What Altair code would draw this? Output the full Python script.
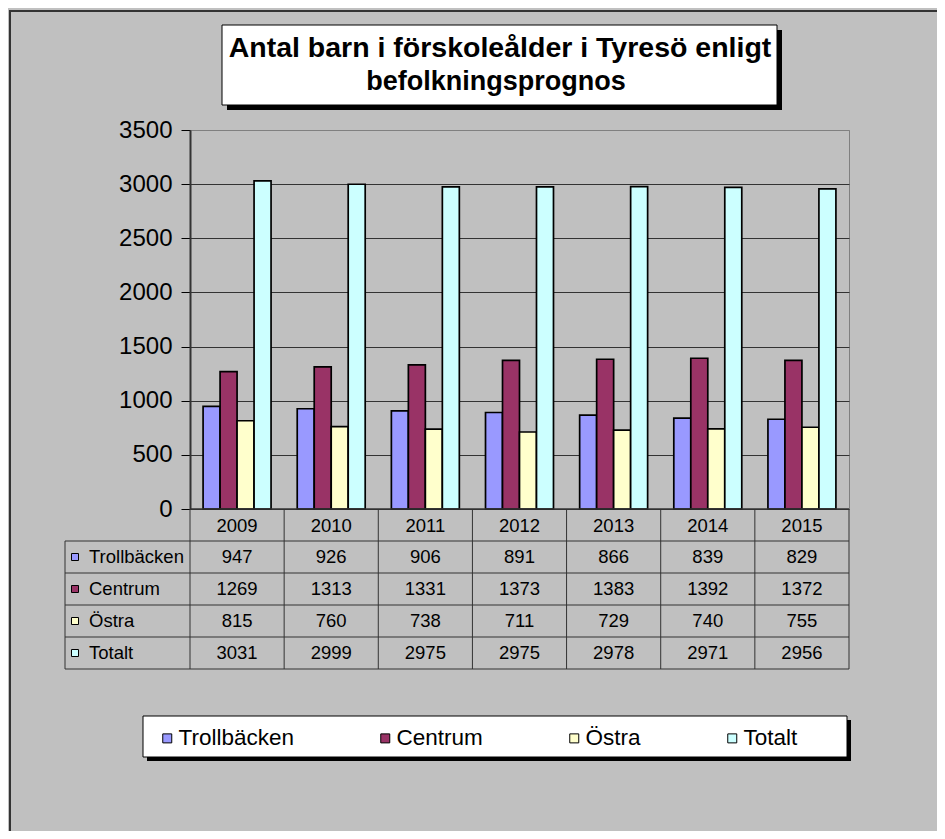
import altair as alt
import pandas as pd

# ---- data ----
years = ["2009", "2010", "2011", "2012", "2013", "2014", "2015"]
series = ["Trollbäcken", "Centrum", "Östra", "Totalt"]
trollbacken = [947, 926, 906, 891, 866, 839, 829]
centrum = [1269, 1313, 1331, 1373, 1383, 1392, 1372]
ostra = [815, 760, 738, 711, 729, 740, 755]
totalt = [3031, 2999, 2975, 2975, 2978, 2971, 2956]
colors = ["#9999FF", "#993366", "#FFFFCC", "#CCFFFF"]
y_ticks = [0, 500, 1000, 1500, 2000, 2500, 3000, 3500]
title_lines = ["Antal barn i förskoleålder i Tyresö enligt", "befolkningsprognos"]

by_series = dict(zip(series, [trollbacken, centrum, ostra, totalt]))
df = pd.DataFrame(
    [{"year": y, "series": s, "value": v} for s in series for y, v in zip(years, by_series[s])]
)
years_df = pd.DataFrame({"year": years})
series_df = pd.DataFrame({"series": series})
one = alt.Data(values=[{"k": 1}])

FONT = "Liberation Sans"
W, H = 659, 379
ROW = 32
TB = H + 5 * ROW  # table bottom
LINE = "#333333"
TFS = 18.5  # table font size

rows = ["header"] + series
row_scale = alt.Scale(type="band", domain=rows, range=[H, TB], paddingInner=0, paddingOuter=0)
x_scale = alt.Scale(type="band", domain=years, paddingInner=0, paddingOuter=0)
x_enc = alt.X("year:N", sort=years, scale=x_scale, axis=None)

legend = alt.Legend(
    title=None, orient="none", legendX=-34, legendY=597, direction="horizontal",
    columnPadding=80, symbolType="square", symbolSize=81, symbolStrokeColor="black",
    symbolStrokeWidth=1, symbolOpacity=1, labelFontSize=22.5, labelFont=FONT,
    labelColor="black", labelOffset=0, padding=0,
)
color_enc = alt.Color("series:N", scale=alt.Scale(domain=series, range=colors), legend=legend)

# outer frame
frame = alt.Chart(one).mark_rect(fill="transparent", stroke=LINE, strokeWidth=2).encode(
    x=alt.value(-180), x2=alt.value(1200), y=alt.value(-119), y2=alt.value(1200)
)

# title box
title_shadow = alt.Chart(one).mark_rect(fill="black").encode(
    x=alt.value(37), x2=alt.value(592), y=alt.value(-100), y2=alt.value(-20)
)
title_box = alt.Chart(one).mark_rect(fill="white", stroke="black", strokeWidth=1).encode(
    x=alt.value(32), x2=alt.value(587), y=alt.value(-105), y2=alt.value(-25)
)
title1 = alt.Chart(one).mark_text(fontSize=28.5, fontWeight="bold", font=FONT, color="black").encode(
    x=alt.value(310), y=alt.value(-82), text=alt.value(title_lines[0])
)
title2 = alt.Chart(one).mark_text(fontSize=27, fontWeight="bold", font=FONT, color="black").encode(
    x=alt.value(306), y=alt.value(-48), text=alt.value(title_lines[1])
)

# bars
bars = alt.Chart(df).mark_bar(stroke="black", strokeWidth=1.7).encode(
    x=x_enc,
    xOffset=alt.XOffset("series:N", sort=series,
                        scale=alt.Scale(domain=series, paddingInner=0, paddingOuter=0.77)),
    y=alt.Y("value:Q", scale=alt.Scale(domain=[0, 3500], nice=False),
            axis=alt.Axis(values=y_ticks, format="d", title=None, labelFontSize=24, labelFont=FONT,
                          labelColor="black", labelPadding=9, tickSize=9, tickColor="black",
                          domainColor=LINE, domainWidth=2, grid=True,
                          gridColor={"condition": {"test": "datum.value === 3500", "value": "#808080"},
                                     "value": LINE})),
    color=color_enc,
)

# table grid
v_lines = alt.Chart(years_df).mark_rule(color=LINE, strokeWidth=1).encode(
    x=alt.X("year:N", sort=years, scale=x_scale, axis=None, bandPosition=0),
    y=alt.value(H), y2=alt.value(TB),
)
v_right = alt.Chart(one).mark_rule(color=LINE, strokeWidth=1).encode(
    x=alt.value(W), y=alt.value(H), y2=alt.value(TB)
)
v_left = alt.Chart(one).mark_rule(color=LINE, strokeWidth=1).encode(
    x=alt.value(-125), y=alt.value(H + ROW), y2=alt.value(TB)
)
h_lines = alt.Chart(series_df).mark_rule(color=LINE, strokeWidth=1).encode(
    y=alt.Y("series:N", scale=row_scale, axis=None, bandPosition=0),
    x=alt.value(-125), x2=alt.value(W),
)
h_bottom = alt.Chart(one).mark_rule(color=LINE, strokeWidth=1).encode(
    y=alt.value(TB), x=alt.value(-125), x2=alt.value(W)
)
x_axis_line = alt.Chart(one).mark_rule(color=LINE, strokeWidth=1.5).encode(
    y=alt.value(H), x=alt.value(0), x2=alt.value(W)
)

# table text
header = alt.Chart(years_df).mark_text(fontSize=TFS, font=FONT, color="black").encode(
    x=x_enc, y=alt.value(H + ROW / 2 + 1), text="year:N"
)
cells = alt.Chart(df).mark_text(fontSize=TFS, font=FONT, color="black").encode(
    x=x_enc, y=alt.Y("series:N", scale=row_scale, axis=None),
    text=alt.Text("value:Q", format="d"),
)
row_labels = alt.Chart(series_df).mark_text(fontSize=TFS, font=FONT, color="black", align="left").encode(
    x=alt.value(-101), y=alt.Y("series:N", scale=row_scale, axis=None), text="series:N"
)
row_keys = alt.Chart(series_df).mark_square(size=49, filled=True, opacity=1, stroke="black", strokeWidth=1).encode(
    x=alt.value(-115), y=alt.Y("series:N", scale=row_scale, axis=None), color=color_enc
)

# legend box
legend_shadow = alt.Chart(one).mark_rect(fill="black").encode(
    x=alt.value(-43), x2=alt.value(661), y=alt.value(590), y2=alt.value(631)
)
legend_box = alt.Chart(one).mark_rect(fill="white", stroke="black", strokeWidth=1).encode(
    x=alt.value(-47), x2=alt.value(657), y=alt.value(586), y2=alt.value(627)
)

chart = alt.layer(
    frame, title_shadow, title_box, title1, title2, legend_shadow, legend_box,
    bars, v_lines, v_right, v_left, h_lines, h_bottom, x_axis_line,
    header, cells, row_labels, row_keys,
).resolve_scale(y="independent").properties(
    width=W, height=H,
    autosize=alt.AutoSizeParams(type="none"),
    padding={"left": 182, "top": 122, "right": 88, "bottom": 322},
    background="#C0C0C0",
).configure_view(stroke="#808080", strokeWidth=1)

chart.save("out.html", embed_options={"renderer": "svg", "actions": False})
